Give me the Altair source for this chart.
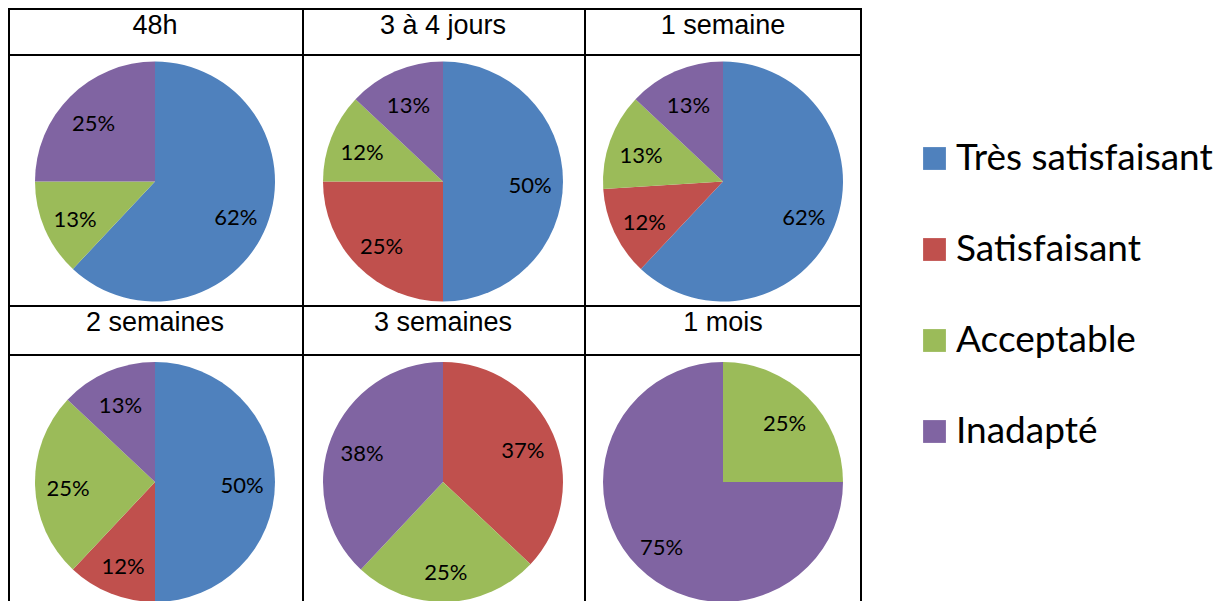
import altair as alt
import pandas as pd

categories = ["Très satisfaisant", "Satisfaisant", "Acceptable", "Inadapté"]
colors = ["#4F81BD", "#C0504D", "#9BBB59", "#8064A2"]
periods = ["48h", "3 à 4 jours", "1 semaine", "2 semaines", "3 semaines", "1 mois"]
tres_satisfaisant = [62, 50, 62, 50, 0, 0]
satisfaisant = [0, 25, 12, 12, 37, 0]
acceptable = [13, 12, 13, 25, 25, 25]
inadapte = [25, 13, 13, 13, 38, 75]

series = [tres_satisfaisant, satisfaisant, acceptable, inadapte]
rows = []
for pi, p in enumerate(periods):
    for ci, c in enumerate(categories):
        v = series[ci][pi]
        rows.append({"period": p, "cat": c, "idx": ci, "value": v, "label": f"{v}%"})
df = pd.DataFrame(rows)

col_widths = [294, 282, 278]
header_heights = [46, 49]
pie_heights = [251, 252]

color_scale = alt.Scale(domain=categories, range=colors)
legend = alt.Legend(
    title=None, orient="none", legendX=908, legendY=132,
    labelFont="Lato", labelFontSize=37, labelColor="#000", labelLimit=500,
    symbolType="square", symbolSize=520, symbolStrokeWidth=0,
    rowPadding=53, labelOffset=3,
)

one = pd.DataFrame({"b": [0]})


def border(w, h, right):
    bar = alt.Chart(one).mark_rect(color="#000", strokeWidth=0)
    parts = [
        bar.encode(x=alt.value(0), x2=alt.value(2), y=alt.value(0), y2=alt.value(h)),
        bar.encode(x=alt.value(0), x2=alt.value(w), y=alt.value(0), y2=alt.value(2)),
    ]
    if right:
        parts.append(bar.encode(x=alt.value(w - 2), x2=alt.value(w), y=alt.value(0), y2=alt.value(h)))
    return parts


def header(title, w, h, right):
    d = pd.DataFrame({"t": [title]})
    t = alt.Chart(d).mark_text(
        font="Liberation Sans", fontSize=27, color="#000", baseline="alphabetic"
    ).encode(text="t:N", y=alt.value(26))
    return alt.layer(t, *border(w, h, right)).properties(width=w, height=h)


def pie(p, w, h, right):
    base = alt.Chart(df).transform_filter(
        (alt.datum.period == p) & (alt.datum.value > 0)
    ).encode(
        theta=alt.Theta("value:Q", stack=True),
        order=alt.Order("idx:Q"),
    )
    arc = base.mark_arc(radius=120, yOffset=2).encode(
        color=alt.Color("cat:N", scale=color_scale, legend=legend, sort=categories)
    )
    txt = base.mark_text(
        radius=87, yOffset=6, font="Lato", fontSize=22, color="#000"
    ).encode(text="label:N")
    return alt.layer(arc, txt, *border(w, h, right)).properties(width=w, height=h)


rows_out = []
for r in range(2):
    hdrs = [header(periods[r * 3 + c], col_widths[c], header_heights[r], c == 2) for c in range(3)]
    pies = [pie(periods[r * 3 + c], col_widths[c], pie_heights[r], c == 2) for c in range(3)]
    rows_out.append(alt.hconcat(*hdrs, spacing=0))
    rows_out.append(alt.hconcat(*pies, spacing=0))

chart = alt.vconcat(*rows_out, spacing=0).properties(
    padding={"left": 0, "top": 0, "right": 0, "bottom": 0}
).configure_view(stroke=None)

chart.save("out.html", embed_options={"renderer": "svg", "actions": False})
